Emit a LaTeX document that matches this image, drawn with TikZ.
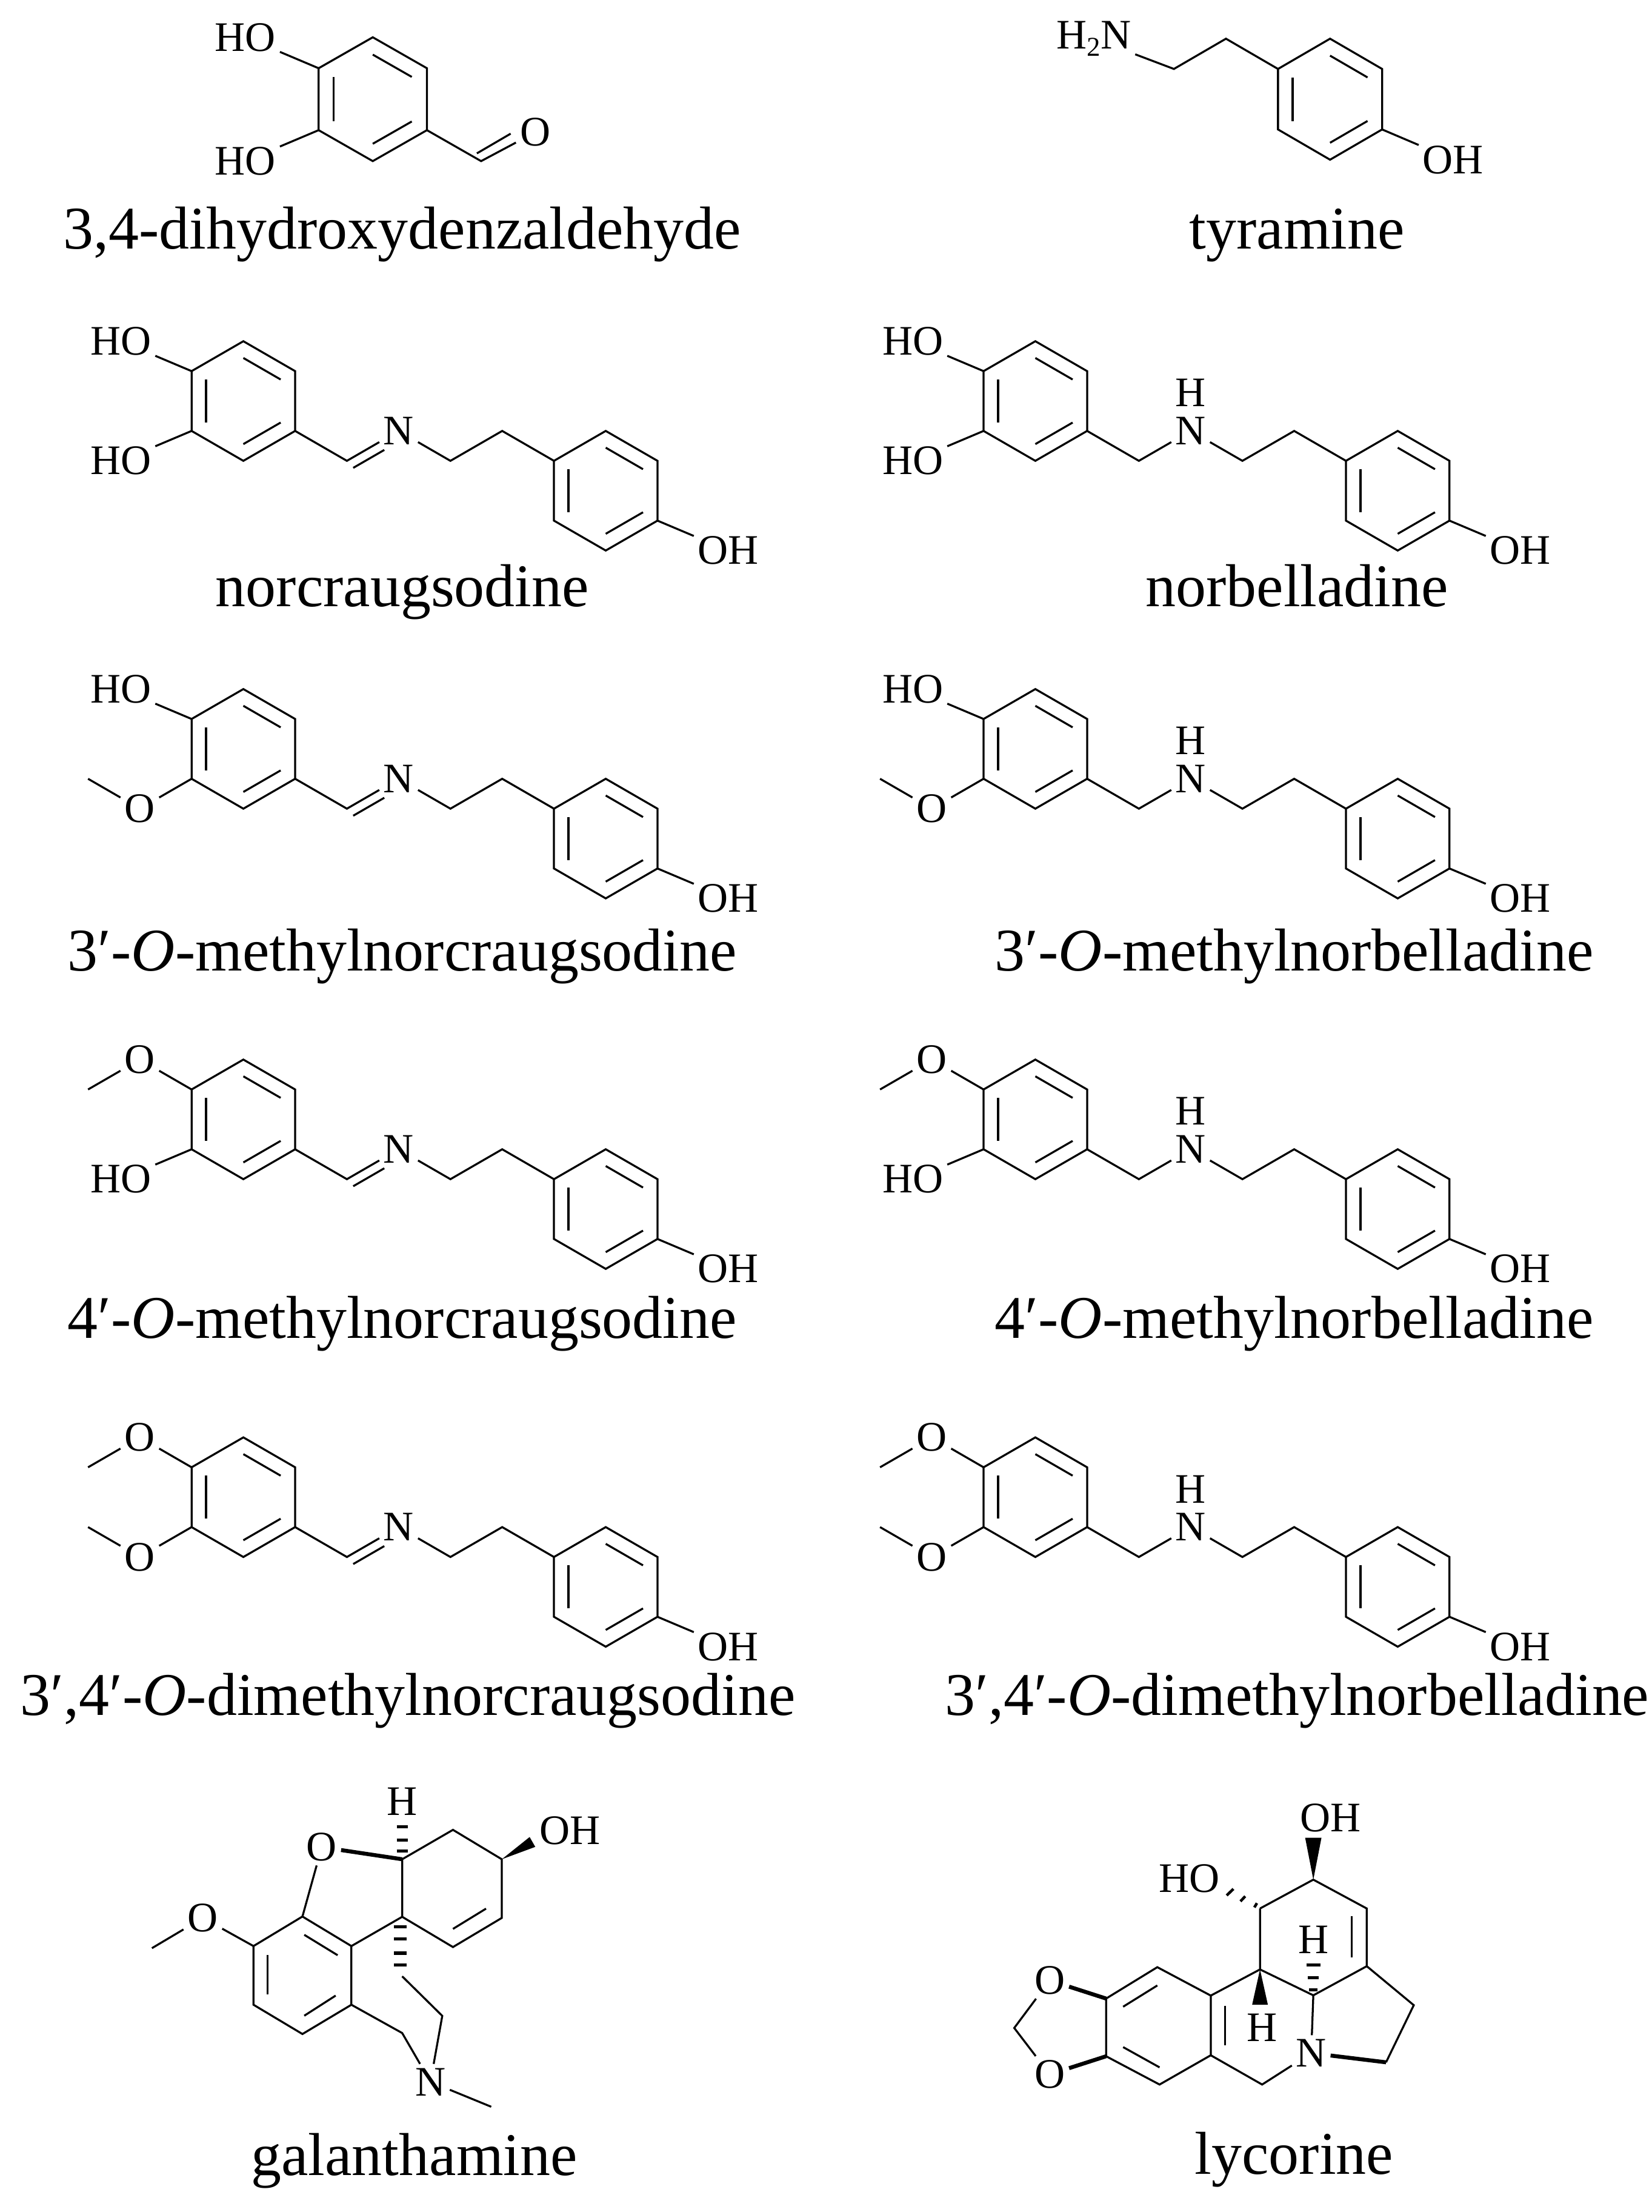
\documentclass[tikz,border=0pt]{standalone}
\usepackage{fontspec}
\setmainfont{Liberation Serif}
\usetikzlibrary{calc}
\newcommand{\atomfont}{\fontsize{17}{17}\selectfont}
\newcommand{\namefont}{\fontsize{24.5}{26}\selectfont}
\def\dx{36.8}
\def\dy{21.25}
\tikzset{
  bond/.style={line width=0.8pt},
  boldbond/.style={line width=1.6pt},
  atom/.style={font=\atomfont, inner sep=1.5pt},
  molname/.style={font=\namefont, anchor=mid, inner sep=0pt},
}
\newcommand{\hexring}[5]{%
  \coordinate (#5c) at ({#1},{#2});
  \coordinate (#5t) at ({#1},{#2-2*#4});
  \coordinate (#5ur) at ({#1+#3},{#2-#4});
  \coordinate (#5lr) at ({#1+#3},{#2+#4});
  \coordinate (#5b) at ({#1},{#2+2*#4});
  \coordinate (#5ll) at ({#1-#3},{#2+#4});
  \coordinate (#5ul) at ({#1-#3},{#2-#4});
  \draw[bond] (#5t)--(#5ur)--(#5lr)--(#5b)--(#5ll)--(#5ul)--cycle;
  \draw[bond] ($(#5t)!0.28!(#5c)$)--($(#5ur)!0.28!(#5c)$);
  \draw[bond] ($(#5ul)!0.28!(#5c)$)--($(#5ll)!0.28!(#5c)$);
  \draw[bond] ($(#5lr)!0.28!(#5c)$)--($(#5b)!0.28!(#5c)$);
}
\newcommand{\chainmol}[4]{%
  \hexring{#1}{#2}{\dx}{\dy}{#3A}
  \hexring{#1+7*\dx}{#2+3*\dy}{\dx}{\dy}{#3B}
  \coordinate (#3C1) at ({#1+2*\dx},{#2+2*\dy});
  \node[atom] (#3N) at ({#1+3*\dx},{#2+\dy}) {N};
  \coordinate (#3C2) at ({#1+4*\dx},{#2+2*\dy});
  \coordinate (#3C3) at ({#1+5*\dx},{#2+\dy});
  \draw[bond] (#3Alr) -- (#3C1) -- (#3N);
  \draw[bond] (#3N) -- (#3C2) -- (#3C3) -- (#3Bul);
  \ifnum#4=1
    \draw[bond] ($(#3C1)+(4.5,5)$) -- ($(#3C1)+({0.6*\dx+4.5},{-0.6*\dy+5})$);
  \else
    \node[atom,inner sep=0pt] (#3H) at ({#1+3*\dx},{#2+\dy-27}) {H};
  \fi
  \node[atom,anchor=west] (#3OH) at ({#1+9*\dx-11},{#2+5*\dy}) {OH};
  \draw[bond] (#3Blr) -- (#3OH);
}
\newcommand{\topHO}[3]{%
  \node[atom,anchor=east] (#3sT) at ({#1-2*\dx+11},{#2-2*\dy}) {HO};
  \draw[bond] (#3Aul) -- (#3sT);}
\newcommand{\botHO}[3]{%
  \node[atom,anchor=east] (#3sB) at ({#1-2*\dx+11},{#2+2*\dy}) {HO};
  \draw[bond] (#3All) -- (#3sB);}
\newcommand{\topMe}[3]{%
  \node[atom] (#3sT) at ({#1-2*\dx},{#2-2*\dy}) {O};
  \coordinate (#3mT) at ({#1-3*\dx},{#2-\dy});
  \draw[bond] (#3Aul) -- (#3sT) -- (#3mT);}
\newcommand{\botMe}[3]{%
  \node[atom] (#3sB) at ({#1-2*\dx},{#2+2*\dy}) {O};
  \coordinate (#3mB) at ({#1-3*\dx},{#2+\dy});
  \draw[bond] (#3All) -- (#3sB) -- (#3mB);}
\begin{document}
\begin{tikzpicture}[x=0.02cm,y=-0.02cm]
\useasboundingbox (0,0) rectangle (1174,1572);
\fill[white] (0,0) rectangle (1174,1572);

% ---- 3,4-dihydroxybenzaldehyde
\hexring{265}{70.5}{38.5}{22}{m1}
\node[atom,anchor=east] (m1ho1) at (199,26.5) {HO};
\node[atom,anchor=east] (m1ho2) at (199,114.5) {HO};
\draw[bond] (m1ul) -- (m1ho1);
\draw[bond] (m1ll) -- (m1ho2);
\coordinate (m1cho) at (342,114.5);
\node[atom] (m1o) at (380.5,94) {O};
\draw[bond] (m1lr) -- (m1cho) -- (m1o);
\draw[bond] ($(m1cho)+(-3,-5.5)$) -- ($(m1cho)+(21,-19.5)$);
\node[molname] (n1) at (286,173) {3,4-dihydroxydenzaldehyde};

% ---- tyramine
\hexring{945.5}{70.5}{37}{21.5}{ty}
\coordinate (tyc1) at (871.5,27.5);
\coordinate (tyc2) at (834.5,49);
\node[atom,anchor=east] (tyn) at (807,27.5) {H\raisebox{-0.35ex}{\fontsize{11}{11}\selectfont 2}N};
\draw[bond] (tyul) -- (tyc1) -- (tyc2) -- (tyn);
\node[atom,anchor=west] (tyoh) at (1008.5,113.5) {OH};
\draw[bond] (tylr) -- (tyoh);
\node[molname] (n2) at (922,173) {tyramine};

% ---- rows of chain molecules
\chainmol{173}{285}{aL}{1}  \topHO{173}{285}{aL}  \botHO{173}{285}{aL}
\chainmol{736}{285}{aR}{0}  \topHO{736}{285}{aR}  \botHO{736}{285}{aR}
\node[molname] (n3) at (286,427) {norcraugsodine};
\node[molname] (n4) at (922,427) {norbelladine};

\chainmol{173}{532.2}{bL}{1}  \topHO{173}{532.2}{bL}  \botMe{173}{532.2}{bL}
\chainmol{736}{532.2}{bR}{0}  \topHO{736}{532.2}{bR}  \botMe{736}{532.2}{bR}
\node[molname] (n5) at (286,686) {3′-\textit{O}-methylnorcraugsodine};
\node[molname] (n6) at (920,686) {3′-\textit{O}-methylnorbelladine};

\chainmol{173}{795.5}{cL}{1}  \topMe{173}{795.5}{cL}  \botHO{173}{795.5}{cL}
\chainmol{736}{795.5}{cR}{0}  \topMe{736}{795.5}{cR}  \botHO{736}{795.5}{cR}
\node[molname] (n7) at (286,947) {4′-\textit{O}-methylnorcraugsodine};
\node[molname] (n8) at (920,947) {4′-\textit{O}-methylnorbelladine};

\chainmol{173}{1064}{dL}{1}  \topMe{173}{1064}{dL}  \botMe{173}{1064}{dL}
\chainmol{736}{1064}{dR}{0}  \topMe{736}{1064}{dR}  \botMe{736}{1064}{dR}
\node[molname] (n9) at (290,1215) {3′,4′-\textit{O}-dimethylnorcraugsodine};
\node[molname] (n10) at (922,1215) {3′,4′-\textit{O}-dimethylnorbelladine};

% ---- galanthamine
\coordinate (g4a) at (285.9,1321.3);
\coordinate (gc1) at (322,1300.4);
\coordinate (gc2) at (356.7,1321.3);
\coordinate (gc3) at (356.7,1363);
\coordinate (gc4) at (322,1383.7);
\coordinate (gq) at (285.9,1362.2);
\coordinate (ga1) at (215,1362);
\coordinate (ga2) at (249.8,1383);
\coordinate (ga3) at (249.8,1424.7);
\coordinate (ga4) at (215,1445.5);
\coordinate (ga5) at (180.2,1424.7);
\coordinate (ga6) at (180.2,1383);
\coordinate (gch2a) at (285.9,1444.8);
\coordinate (gh1) at (285.9,1404.5);
\coordinate (gch2b) at (314.4,1432.6);
\coordinate (gme) at (108,1384.5);
\coordinate (gnme) at (349.2,1497.2);
\node[atom] (gH) at (285.9,1280.3) {H};
\node[atom] (gO) at (228.7,1312.7) {O};
\node[atom] (gOH) at (405,1301) {OH};
\node[atom] (gOm) at (144.2,1363) {O};
\node[atom] (gN) at (306,1479.5) {N};
\draw[bond] (g4a) -- (gc1) -- (gc2) -- (gc3) -- (gc4) -- (gq) -- (g4a);
\draw[bond] (345.5,1356.4) -- (322,1370.8);
\draw[boldbond] (gO) -- (g4a);
\draw[bond] (gO) -- (ga1);
\draw[bond] (ga1) -- (ga2) -- (ga3) -- (ga4) -- (ga5) -- (ga6) -- cycle;
\draw[bond] (216.3,1375) -- (240,1389.5);
\draw[bond] (190.1,1389.5) -- (190.1,1417.5);
\draw[bond] (216.3,1432.5) -- (238.6,1418.2);
\draw[bond] (gq) -- (ga2);
\draw[bond] (ga6) -- (gOm) -- (gme);
\draw[bond] (ga3) -- (gch2a) -- (gN);
\draw[bond] (gh1) -- (gch2b) -- (gN);
\draw[bond] (gN) -- (gnme);
\fill (gc2) -- (380.5,1312.5) -- (376.5,1305.5) -- cycle;
\foreach \yy in {1298.3,1307.6,1315.5}
  \draw[line width=1.3pt] (282,\yy) -- (290,\yy);
\foreach \yy in {1369.4,1378,1388,1396.5}
  \draw[line width=1.3pt] (280.2,\yy) -- (289,\yy);
\node[molname] (n11) at (294.5,1542) {galanthamine};

% ---- lycorine
\coordinate (lc1) at (895.7,1356.3);
\coordinate (lc2) at (933.6,1335.8);
\coordinate (lc3) at (971.6,1356.3);
\coordinate (lc3a) at (971.6,1397.3);
\coordinate (lc11c) at (933.6,1418);
\coordinate (lc10b) at (895.7,1399.6);
\coordinate (lc4) at (1005,1425);
\coordinate (lc5) at (985.3,1465.6);
\coordinate (la1) at (822.7,1398);
\coordinate (la2) at (860.7,1418.2);
\coordinate (la3) at (860.7,1460.6);
\coordinate (la4) at (824.3,1481.4);
\coordinate (la5) at (786.3,1461.3);
\coordinate (la6) at (786.3,1420.3);
\coordinate (lc6) at (897.2,1481.4);
\coordinate (lch2) at (721,1441.2);
\node[atom] (lOH) at (945.8,1291.7) {OH};
\node[atom] (lHO) at (845.5,1335) {HO};
\node[atom] (lHu) at (933.6,1378.3) {H};
\node[atom] (lHd) at (897,1441) {H};
\node[atom] (lN) at (932.1,1459.1) {N};
\node[atom] (lOt) at (746.2,1407.4) {O};
\node[atom] (lOb) at (746.2,1474.2) {O};
\draw[bond] (lc1) -- (lc2) -- (lc3) -- (lc3a) -- (lc11c) -- (lc10b) -- (lc1);
\draw[bond] (961,1361.6) -- (961,1391);
\draw[bond] (lc3a) -- (lc4) -- (lc5);
\draw[boldbond] (lc5) -- (lN);
\draw[bond] (lc11c) -- (lN);
\draw[bond] (lc10b) -- (la2);
\draw[bond] (la1) -- (la2) -- (la3) -- (la4) -- (la5) -- (la6) -- cycle;
\draw[bond] (798.4,1426.1) -- (822.7,1411);
\draw[bond] (798.4,1454.8) -- (824.3,1469.2);
\draw[bond] (870.7,1425.4) -- (870.7,1453.4);
\draw[bond] (la3) -- (lc6) -- (lN);
\draw[boldbond] (la6) -- (lOt);
\draw[boldbond] (la5) -- (lOb);
\draw[bond] (lOt) -- (lch2) -- (lOb);
\fill (lc2) -- (939.4,1306) -- (927.8,1306) -- cycle;
\fill (lc10b) -- (901.3,1424.7) -- (890.1,1424.7) -- cycle;
\foreach \yy/\w in {1396.5/5,1405.6/4,1414/3}
  \draw[line width=1.3pt] ({933.6-\w},\yy) -- ({933.6+\w},\yy);
\draw[line width=1.1pt] (891.7,1355.5) -- (893.5,1352.5);
\draw[line width=1.1pt] (881.8,1351.2) -- (885.2,1347.6);
\draw[line width=1.1pt] (872,1347) -- (876.8,1342.4);
\node[molname] (n12) at (920,1541) {lycorine};
\end{tikzpicture}
\end{document}
